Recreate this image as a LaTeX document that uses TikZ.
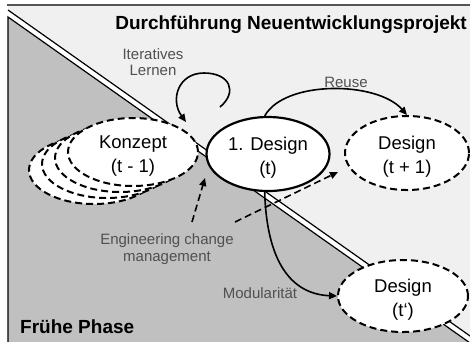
\documentclass[tikz,border=0pt]{standalone}
\usepackage{fontspec}
\setmainfont{Liberation Sans}
\usetikzlibrary{shapes.geometric,arrows.meta}
\definecolor{upperbg}{HTML}{F0F0F0}
\definecolor{lowerbg}{HTML}{C0C0C0}
\definecolor{labelgray}{HTML}{505050}
\definecolor{rulegray}{HTML}{555555}
% two centred lines, set a little below the middle of the ellipse
\newcommand\twoline[2]{\raisebox{-3.5pt}[\height][\depth]{\begin{tabular}{@{}c@{}}#1\\#2\end{tabular}}}
\begin{document}
\begin{tikzpicture}[x=1pt,y=-1pt,
  stage/.style={ellipse, draw=black, fill=white, line width=2pt,
    dash pattern=on 7pt off 4pt, inner sep=0pt,
    minimum width=128pt, minimum height=72pt,
    font=\fontsize{18.5}{24}\selectfont},
  current/.style={stage, solid, line width=2.2pt},
  flow/.style={-{Triangle[length=8pt,width=7pt]}, line width=1.6pt},
  ecmflow/.style={flow, dash pattern=on 7pt off 4pt},
  note/.style={text=labelgray, align=center, inner sep=0pt,
    font=\fontsize{15}{16.5}\selectfont},
  heading/.style={inner sep=0pt, font=\bfseries\fontsize{19}{22}\selectfont}
]
\useasboundingbox (0,0) rectangle (470,341);
\clip (0,0) rectangle (470,341);

% project area (top right) and early phase (bottom left)
\fill[white] (0,0) rectangle (470,341);
\fill[upperbg] (8,5) rectangle (470,341);
\draw[rulegray, line width=2pt] (7,5) -- (470,5);
\fill[lowerbg] (8,17) -- (480,350) -- (8,350) -- cycle;
\fill[white] (8,10) -- (480,343) -- (480,350) -- (8,17) -- cycle;
\draw[line width=1.2pt] (8,10) -- (480,343);
\draw[line width=1.2pt] (8,350) -- (8,17) -- (480,350);

\node[heading, anchor=base east] (title) at (467,29) {Durchführung Neuentwicklungsprojekt};
\node[heading, anchor=base west] (early) at (20,333) {Frühe Phase};

% stack of earlier concepts
\node[stage, minimum width=130pt, minimum height=68pt] (k3) at (94,170) {};
\node[stage, minimum width=130pt, minimum height=68pt] (k2) at (107,164) {};
\node[stage, minimum width=130pt, minimum height=68pt] (k1) at (120,158) {};
\node[stage, minimum width=130pt, minimum height=68pt] (konzept) at (133,152) {\twoline{Konzept}{(t - 1)}};

% designs
\node[current, minimum width=123pt, minimum height=74pt] (dt) at (268,154) {\twoline{1. Design}{(t)}};
\node[stage, minimum width=124pt, minimum height=74pt] (dnext) at (407,153) {\twoline{Design}{(t + 1)}};
\node[stage, minimum width=130pt, minimum height=72pt] (dmod) at (403,296) {\twoline{Design}{(t‘)}};

% iterative learning loop
\coordinate (loopstart) at (220,107);
\coordinate (loopend) at (186,122);
\draw[flow] (loopstart) .. controls (238,92) and (230,73) .. (204,73)
  .. controls (178,73) and (170,100) .. (loopend);
\node[note] (iter) at (153,62) {Iteratives\\Lernen};

% reuse and modularity
\draw[flow] (dt.95) .. controls +(20,-36) and +(-30,-34) .. (dnext.north);
\node[note] (reuse) at (346,82) {Reuse};
\draw[flow] (dt.265) .. controls +(2,68) and +(-47,-2) .. (dmod.west);
\node[note] (modul) at (260,293) {Modularität};

% engineering change management
\node[note] (ecm) at (167,249) {Engineering change\\management};
\coordinate (ecmA) at (192,222);
\coordinate (ecmAend) at (205,178);
\coordinate (ecmB) at (235,222);
\coordinate (ecmBend) at (338,172);
\draw[ecmflow] (ecmA) -- (ecmAend);
\draw[ecmflow] (ecmB) -- (ecmBend);
\end{tikzpicture}
\end{document}
